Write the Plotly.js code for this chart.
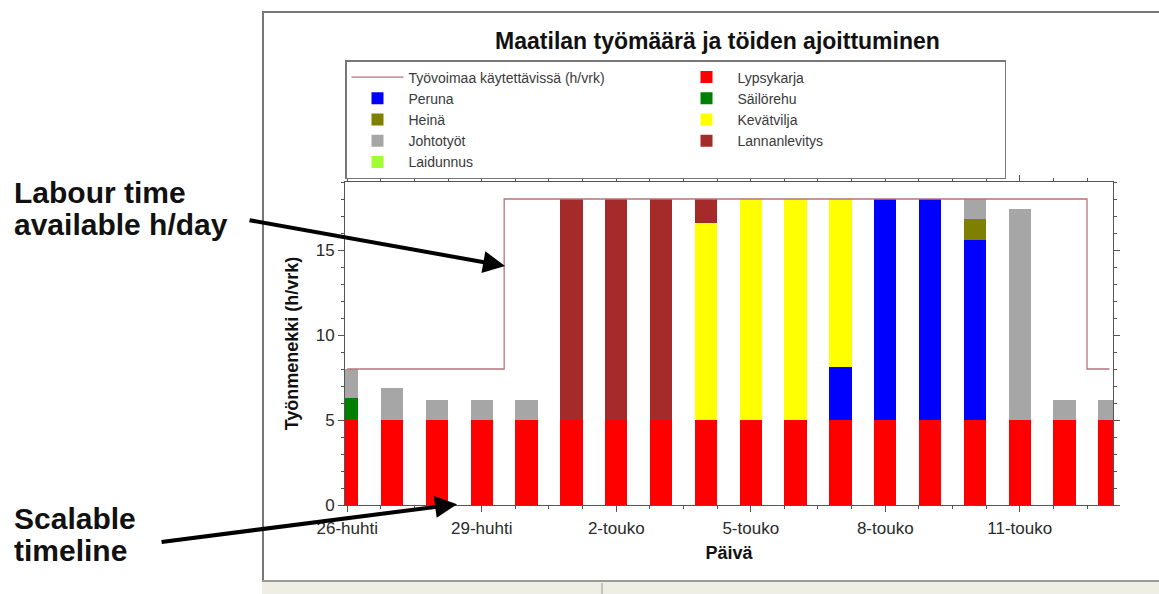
<!DOCTYPE html>
<html>
<head>
<meta charset="utf-8">
<script src="https://cdn.plot.ly/plotly-3.0.1.min.js"></script>
<style>html,body{margin:0;padding:0;background:#fff;}#chart{width:1159px;height:594px;}</style>
</head>
<body>
<div id="chart"></div>
<script>
// Days (x categories)
const days = ["26-huhti","27-huhti","28-huhti","29-huhti","30-huhti","1-touko","2-touko","3-touko","4-touko","5-touko","6-touko","7-touko","8-touko","9-touko","10-touko","11-touko","12-touko","13-touko"];
const tickDays = ["26-huhti","29-huhti","2-touko","5-touko","8-touko","11-touko"];

// Labour available (h/day)
const capacity = [8,8,8,8,18,18,18,18,18,18,18,18,18,18,18,18,18,8];

// Work per activity (h/day)
const lypsykarja    = [5,5,5,5,5,5,5,5,5,5,5,5,5,5,5,5,5,5];
const peruna        = [0,0,0,0,0,0,0,0,0,0,0,3.1,13,13,10.6,0,0,0];
const sailorehu     = [1.3,0,0,0,0,0,0,0,0,0,0,0,0,0,0,0,0,0];
const heina         = [0,0,0,0,0,0,0,0,0,0,0,0,0,0,1.2,0,0,0];
const kevatvilja    = [0,0,0,0,0,0,0,0,11.6,13,13,9.9,0,0,0,0,0,0];
const johtotyot     = [1.7,1.9,1.2,1.2,1.2,0,0,0,0,0,0,0,0,0,1.2,12.4,1.2,1.2];
const lannanlevitys = [0,0,0,0,0,13,13,13,1.4,0,0,0,0,0,0,0,0,0];
const laidunnus     = [0,0,0,0,0,0,0,0,0,0,0,0,0,0,0,0,0,0];

const xIdx = days.map((d, i) => i);
const tickIdx = tickDays.map(d => days.indexOf(d));

function bar(name, vals, color) {
  return {type: 'bar', name: name, x: xIdx, y: vals, width: 0.5,
          marker: {color: color, line: {width: 0}}, hoverinfo: 'name+y'};
}

const traces = [
  {type: 'scatter', mode: 'lines', name: 'Työvoimaa käytettävissä (h/vrk)', x: xIdx, y: capacity,
   line: {shape: 'hvh', color: '#b8737e', width: 1.3}},
  bar('Lypsykarja', lypsykarja, '#ff0000'),
  bar('Peruna', peruna, '#0000ff'),
  bar('Säilörehu', sailorehu, '#008000'),
  bar('Heinä', heina, '#808000'),
  bar('Kevätvilja', kevatvilja, '#ffff00'),
  bar('Johtotyöt', johtotyot, '#a6a6a6'),
  bar('Lannanlevitys', lannanlevitys, '#a52a2a'),
  bar('Laidunnus', laidunnus, '#a0ff30')
];

const px = v => (v - 345) / 768;   // pixel -> paper x
const py = v => (505 - v) / 323;   // pixel -> paper y

const layout = {
  width: 1159, height: 594,
  margin: {l: 345, r: 46, t: 182, b: 89},
  paper_bgcolor: '#ffffff', plot_bgcolor: '#ffffff',
  font: {family: 'Liberation Sans, Arial, sans-serif', color: '#222'},
  barmode: 'stack',
  showlegend: true,
  title: {text: 'Maatilan työmäärä ja töiden ajoittuminen', xref: 'paper', x: 0.485, xanchor: 'center',
          yref: 'container', y: 1 - 41/594, yanchor: 'middle',
          font: {size: 23, family: 'Liberation Sans, Arial, sans-serif', weight: 'bold', color: '#111'}},
  legend: {orientation: 'h', x: 0, xanchor: 'left', y: py(60), yanchor: 'top',
           traceorder: 'normal', entrywidth: 262, entrywidthmode: 'pixels', itemwidth: 52,
           bordercolor: '#777', borderwidth: 1.5, bgcolor: '#fff',
           font: {size: 14, color: '#3a3a3a'}},
  xaxis: {range: [-0.05, 17.08], tickmode: 'array', tickvals: tickIdx, ticktext: tickDays,
          showgrid: false, zeroline: false, showline: true, linecolor: '#555', linewidth: 1,
          mirror: 'allticks', ticks: 'outside', ticklen: 6, tickcolor: '#555',
          minor: {dtick: 0.75, tick0: 0, ticks: 'outside', ticklen: 3, tickcolor: '#555', showgrid: false},
          ticklabelstandoff: 2,
          tickfont: {size: 17, color: '#2a2a2a'},
          title: {text: 'Päivä', standoff: 8, font: {size: 18, weight: 'bold', color: '#111'}}},
  yaxis: {range: [0, 19], tickvals: [0,5,10,15], showgrid: false, zeroline: false,
          showline: true, linecolor: '#555', linewidth: 1, mirror: 'allticks',
          ticks: 'outside', ticklen: 6, tickcolor: '#555',
          minor: {dtick: 1, ticks: 'outside', ticklen: 3, tickcolor: '#555', showgrid: false},
          tickfont: {size: 17, color: '#2a2a2a'},
          title: {text: 'Työnmenekki (h/vrk)', standoff: 12, font: {size: 18, weight: 'bold', color: '#111'}}},
  shapes: [
    {type: 'line', xref: 'paper', yref: 'paper', x0: px(262), x1: px(1159), y0: py(12), y1: py(12), line: {color: '#777', width: 2}},
    {type: 'line', xref: 'paper', yref: 'paper', x0: px(263), x1: px(263), y0: py(12), y1: py(582), line: {color: '#777', width: 2}},
    {type: 'rect', xref: 'paper', yref: 'paper', x0: px(262), x1: px(1159), y0: py(582), y1: py(594), fillcolor: '#efeee4', line: {width: 0}},
    {type: 'line', xref: 'paper', yref: 'paper', x0: px(262), x1: px(1159), y0: py(581), y1: py(581), line: {color: '#9a9a9a', width: 2}},
    {type: 'line', xref: 'paper', yref: 'paper', x0: px(602), x1: px(602), y0: py(583), y1: py(594), line: {color: '#999', width: 1}}
  ],
  annotations: [
    {xref: 'paper', yref: 'paper', x: px(12), y: py(193), xanchor: 'left', yanchor: 'middle', showarrow: false,
     text: 'Labour time', font: {size: 30, weight: 'bold', color: '#111'}},
    {xref: 'paper', yref: 'paper', x: px(12), y: py(224), xanchor: 'left', yanchor: 'middle', showarrow: false,
     text: 'available h/day', font: {size: 30, weight: 'bold', color: '#111'}},
    {xref: 'paper', yref: 'paper', x: px(12), y: py(518), xanchor: 'left', yanchor: 'middle', showarrow: false,
     text: 'Scalable', font: {size: 30, weight: 'bold', color: '#111'}},
    {xref: 'paper', yref: 'paper', x: px(12), y: py(550), xanchor: 'left', yanchor: 'middle', showarrow: false,
     text: 'timeline', font: {size: 30, weight: 'bold', color: '#111'}},
    {xref: 'x', yref: 'y', x: 3.52, y: 14.06, text: '', showarrow: true, ax: -257, ay: -46,
     arrowhead: 2, arrowsize: 1.1, arrowwidth: 4, arrowcolor: '#000', standoff: 0},
    {xref: 'x', yref: 'y', x: 2.45, y: 0.05, text: '', showarrow: true, ax: -297, ay: 38,
     arrowhead: 2, arrowsize: 1.1, arrowwidth: 4, arrowcolor: '#000', standoff: 0}
  ]
};

Plotly.newPlot('chart', traces, layout, {displayModeBar: false, staticPlot: true});
</script>
</body>
</html>
